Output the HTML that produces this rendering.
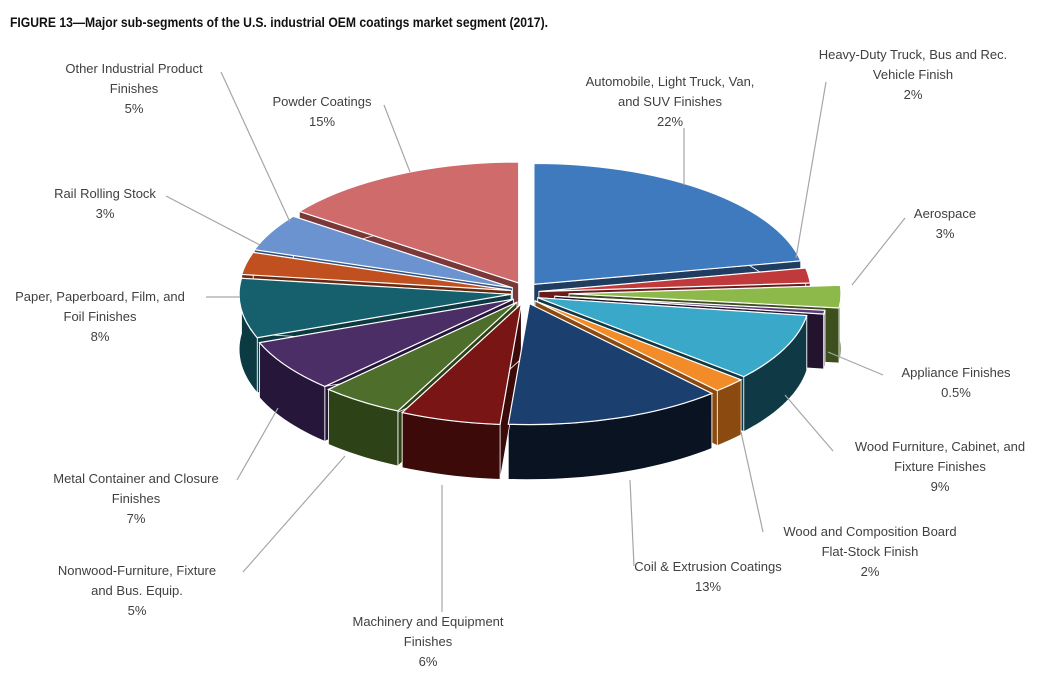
<!DOCTYPE html>
<html><head><meta charset="utf-8"><style>
html,body{margin:0;padding:0;background:#fff;}
svg{display:block;}
.lb{font-family:"Liberation Sans",sans-serif;font-size:13px;fill:#404040;text-anchor:middle;}
.ld{stroke:#a6a6a6;stroke-width:1.2;fill:none;}
</style></head><body>
<svg id="chart" width="1050" height="694" viewBox="0 0 1050 694" xmlns="http://www.w3.org/2000/svg">
<text x="10" y="27" textLength="538" lengthAdjust="spacingAndGlyphs" style="font-family:'Liberation Sans Narrow','Liberation Sans',sans-serif;font-weight:bold;font-size:14px;fill:#111;">FIGURE 13—Major sub-segments of the U.S. industrial OEM coatings market segment (2017).</text>
<g id="walls"></g>
<g id="tops"></g>
<g id="labels"></g>
</svg>
<script>
const categories=["Automobile, Light Truck, Van, and SUV Finishes","Heavy-Duty Truck, Bus and Rec. Vehicle Finish","Aerospace","Appliance Finishes","Wood Furniture, Cabinet, and Fixture Finishes","Wood and Composition Board Flat-Stock Finish","Coil & Extrusion Coatings","Machinery and Equipment Finishes","Nonwood-Furniture, Fixture and Bus. Equip.","Metal Container and Closure Finishes","Paper, Paperboard, Film, and Foil Finishes","Rail Rolling Stock","Other Industrial Product Finishes","Powder Coatings"];
const shares=[22,2,3,0.5,9,2,13,6,5,7,8,3,5,15];
const shareLabels=["22%","2%","3%","0.5%","9%","2%","13%","6%","5%","7%","8%","3%","5%","15%"];
const labelLines=[["Automobile, Light Truck, Van,","and SUV Finishes"],["Heavy-Duty Truck, Bus and Rec.","Vehicle Finish"],["Aerospace"],["Appliance Finishes"],["Wood Furniture, Cabinet, and","Fixture Finishes"],["Wood and Composition Board","Flat-Stock Finish"],["Coil & Extrusion Coatings"],["Machinery and Equipment","Finishes"],["Nonwood-Furniture, Fixture","and Bus. Equip."],["Metal Container and Closure","Finishes"],["Paper, Paperboard, Film, and","Foil Finishes"],["Rail Rolling Stock"],["Other Industrial Product","Finishes"],["Powder Coatings"]];
const topColors=["#3f7abf","#c0393b","#8db84a","#5a3b7a","#3aa8c8","#f28c28","#1b3f6e","#7a1515","#4e6e2c","#4b2e66","#16606e","#c0501f","#6b93cf","#cf6b6b"];
const sideColors=["#1f3d60","#6a1c1d","#3e4f1e","#24132f","#0f3a45","#8a4a10","#0a1322","#3d0a0a","#2e4218","#26163a","#0b3a42","#6a2a10","#34507a","#7a3838"];
const explode=[14,14,44,30,14,14,14,14,14,14,14,14,14,14];
const labelPos=[[670,81],[913,54],[945,213],[956,372],[940,446],[870,531],[708,566],[428,621],[137,570],[136,478],[100,296],[105,193],[134,68],[322,101]];
const leaders=[[[684,128],[684,185]],[[826,82],[796,258]],[[905,218],[852,285]],[[883,375],[828,352]],[[833,451],[785,395]],[[763,532],[741,432]],[[634,566],[630,480]],[[442,612],[442,485]],[[243,572],[345,456]],[[237,480],[278,408]],[[206,297],[240,297]],[[166,196],[260,245]],[[221,72],[290,222]],[[384,105],[410,172]]];
const cx=525,cy=293,rx=272,ry=121,depth=55;
const NS="http://www.w3.org/2000/svg";
const total=shares.reduce((a,b)=>a+b,0);
const rad=d=>d*Math.PI/180;
const slices=[];let cum=0;
shares.forEach((v,i)=>{
  const a0=-90+cum/total*360;cum+=v;const a1=-90+cum/total*360;
  const mid=rad((a0+a1)/2);
  const ox=explode[i]*Math.cos(mid),oy=explode[i]*Math.sin(mid)*0.8;
  slices.push({i,a0,a1,ox,oy,mid});
});
function pt(s,a,dy){return [cx+s.ox+rx*Math.cos(rad(a)),cy+s.oy+ry*Math.sin(rad(a))+(dy||0)];}
const walls=document.getElementById('walls'),tops=document.getElementById('tops'),lg=document.getElementById('labels');
const order=slices.slice().sort((a,b)=>Math.sin(a.mid)-Math.sin(b.mid));
order.forEach(s=>{
  const c=[cx+s.ox,cy+s.oy];
  [s.a0,s.a1].forEach(a=>{
    const p=pt(s,a);
    const el=document.createElementNS(NS,'path');
    
    
    el.setAttribute('d',`M${c[0]},${c[1]}L${p[0]},${p[1]}L${p[0]},${p[1]+depth}L${c[0]},${c[1]+depth}Z`);
    el.setAttribute('fill',sideColors[s.i]);el.setAttribute('stroke','#fff');el.setAttribute('stroke-width','0.8');
    walls.appendChild(el);
  });
  const n=Math.max(2,Math.ceil((s.a1-s.a0)/2));const up=[],dn=[];
  for(let k=0;k<=n;k++){const a=s.a0+(s.a1-s.a0)*k/n;up.push(pt(s,a));dn.push(pt(s,a,depth));}
  const d='M'+up.map(p=>p.join(',')).join('L')+'L'+dn.reverse().map(p=>p.join(',')).join('L')+'Z';
  const w=document.createElementNS(NS,'path');
  
  
  w.setAttribute('d',d);w.setAttribute('fill',sideColors[s.i]);w.setAttribute('stroke','#fff');w.setAttribute('stroke-width','0.8');
  walls.appendChild(w);
});
slices.forEach(s=>{
  const c=[cx+s.ox,cy+s.oy],p0=pt(s,s.a0),p1=pt(s,s.a1);
  const large=(s.a1-s.a0)>180?1:0;
  const el=document.createElementNS(NS,'path');
  
  
  el.setAttribute('d',`M${c[0]},${c[1]}L${p0[0]},${p0[1]}A${rx},${ry} 0 ${large} 1 ${p1[0]},${p1[1]}Z`);
  el.setAttribute('fill',topColors[s.i]);el.setAttribute('stroke','#fff');el.setAttribute('stroke-width','1.2');
  tops.appendChild(el);
});
labelLines.forEach((lines,i)=>{
  const ld=document.createElementNS(NS,'polyline');
  
  
  ld.setAttribute('class','ld');ld.setAttribute('points',leaders[i].map(p=>p.join(',')).join(' '));
  lg.appendChild(ld);
  const all=lines.concat([shareLabels[i]]);
  all.forEach((t,k)=>{
    const tx=document.createElementNS(NS,'text');
    
    
    tx.setAttribute('class','lb');tx.setAttribute('x',labelPos[i][0]);tx.setAttribute('y',labelPos[i][1]+k*20+5);
    tx.textContent=t;lg.appendChild(tx);
  });
});
</script>
</body></html>
